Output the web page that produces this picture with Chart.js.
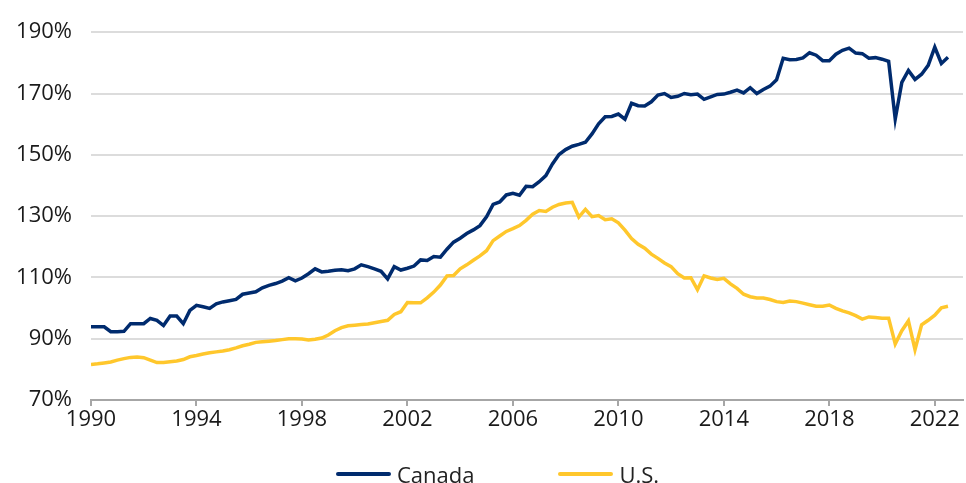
<!DOCTYPE html>
<html>
<head>
<meta charset="utf-8">
<script src="https://cdn.jsdelivr.net/npm/chart.js@4.4.1/dist/chart.umd.min.js"></script>
<style>
    html, body { margin: 0; padding: 0; background: #fff; }
    .wrap { position: relative; width: 966px; height: 483px; }
    .legend {
        position: absolute;
        left: 336px;
        top: 459px;
        display: flex;
        align-items: center;
        font-family: 'Open Sans', sans-serif;
        font-size: 22px;
        color: #222;
    }
    .legend-item { display: flex; align-items: center; margin-right: 84px; }
    .legend-line { width: 55px; height: 4px; margin-right: 6px; border-radius: 2px; }
</style>
</head>
<body>
<div class="wrap">
    <canvas id="debtChart" width="966" height="483"></canvas>
    <div class="legend" id="legend"></div>
</div>
<script>
    // quarterly, 1990 Q1 .. 2022 Q3
    const startYear = 1990;
    const canadaDebt = [
        93.9, 93.9, 93.9, 92.3, 92.3, 92.4, 94.9, 94.9, 94.9, 96.6,
        96.0, 94.3, 97.4, 97.4, 94.9, 99.2, 100.9, 100.4, 99.9, 101.4,
        102.0, 102.4, 102.8, 104.5, 104.9, 105.3, 106.6, 107.4, 108.0, 108.8,
        109.9, 108.9, 109.8, 111.2, 112.8, 111.8, 112.0, 112.3, 112.5, 112.2,
        112.8, 114.1, 113.5, 112.8, 112.0, 109.5, 113.5, 112.4, 113.0, 113.7,
        115.7, 115.5, 116.8, 116.6, 119.2, 121.5, 122.8, 124.3, 125.5, 126.9,
        129.8, 133.8, 134.6, 136.9, 137.4, 136.8, 139.7, 139.6, 141.2, 143.2,
        147.0, 150.1, 151.7, 152.8, 153.4, 154.1, 156.8, 160.1, 162.4, 162.5,
        163.3, 161.6, 166.8, 166.0, 165.9, 167.3, 169.5, 170.0, 168.7, 169.1,
        170.0, 169.6, 169.8, 168.1, 168.9, 169.7, 169.8, 170.4, 171.1, 170.2,
        171.9, 170.0, 171.3, 172.4, 174.5, 181.5, 181.0, 181.1, 181.6, 183.3,
        182.5, 180.7, 180.7, 182.8, 184.1, 184.8, 183.2, 183.0, 181.5, 181.7,
        181.2, 180.5, 161.7, 173.6, 177.5, 174.6, 176.3, 179.2, 185.1, 179.8,
        181.8
    ];
    const usDebt = [
        81.6, 81.8, 82.1, 82.4, 83.0, 83.5, 83.9, 84.0, 83.8, 83.0,
        82.2, 82.2, 82.5, 82.7, 83.2, 84.1, 84.5, 85.0, 85.4, 85.7,
        86.0, 86.4, 87.0, 87.7, 88.2, 88.8, 89.0, 89.2, 89.4, 89.7,
        90.0, 90.0, 89.9, 89.6, 89.8, 90.2, 91.2, 92.6, 93.6, 94.2,
        94.4, 94.6, 94.8, 95.2, 95.6, 96.0, 97.9, 98.8, 101.8, 101.7,
        101.7, 103.3, 105.2, 107.5, 110.5, 110.6, 112.8, 114.1, 115.6, 117.0,
        118.7, 122.0, 123.5, 125.0, 125.9, 126.9, 128.6, 130.6, 131.8, 131.5,
        132.9, 133.8, 134.3, 134.5, 129.7, 132.2, 129.8, 130.2, 128.8, 129.1,
        127.8, 125.4, 122.7, 120.8, 119.5, 117.6, 116.2, 114.7, 113.5, 111.2,
        109.8, 109.9, 106.0, 110.5, 109.8, 109.3, 109.7, 107.9, 106.4, 104.5,
        103.7, 103.3, 103.3, 102.8, 102.1, 101.8, 102.3, 102.1, 101.6, 101.1,
        100.6, 100.6, 101.0, 99.9, 99.1, 98.4, 97.5, 96.4, 97.1, 96.9,
        96.7, 96.7, 88.3, 92.6, 95.8, 86.4, 94.5, 96.0, 97.7, 100.1,
        100.6
    ];
    const yearTicks = [1990, 1994, 1998, 2002, 2006, 2010, 2014, 2018, 2022];
    const valueTicks = [70, 90, 110, 130, 150, 170, 190];

    const seriesNames = ['Canada', 'U.S.'];
    const seriesColors = ['#002b6e', '#ffc72c'];

    const quarters = canadaDebt.map((_, i) => {
        const year = startYear + Math.floor(i / 4);
        return { label: `${year} Q${(i % 4) + 1}`, x: year + (i % 4) / 4 };
    });

    const toPoints = (values) => values.map((v, i) => ({ x: quarters[i].x, y: v }));

    const font = { family: "'Open Sans', sans-serif", size: 22 };

    new Chart(document.getElementById('debtChart'), {
        type: 'line',
        data: {
            datasets: [
                {
                    label: seriesNames[0],
                    data: toPoints(canadaDebt),
                    borderColor: seriesColors[0],
                    borderWidth: 3.5,
                    pointRadius: 0,
                    tension: 0,
                    order: 0,
                },
                {
                    label: seriesNames[1],
                    data: toPoints(usDebt),
                    borderColor: seriesColors[1],
                    borderWidth: 3.5,
                    pointRadius: 0,
                    tension: 0,
                    order: 1,
                },
            ],
        },
        options: {
            responsive: false,
            animation: false,
            layout: { padding: { top: 27, right: 3, left: 0, bottom: 0 } },
            plugins: {
                legend: { display: false },
                tooltip: { enabled: false },
            },
            scales: {
                x: {
                    type: 'linear',
                    min: 1990,
                    max: 2023.07,
                    afterBuildTicks: (axis) => {
                        axis.ticks = yearTicks.map((v) => ({ value: v }));
                    },
                    afterFit: (axis) => {
                        axis.height = 83;
                    },
                    ticks: {
                        color: '#1a1a1a',
                        font,
                        padding: 1,
                        maxRotation: 0,
                        autoSkip: false,
                        callback: (v) => String(v),
                    },
                    grid: {
                        drawOnChartArea: false,
                        drawTicks: true,
                        tickLength: 6,
                        color: '#a6a6a6',
                        lineWidth: 2,
                    },
                    border: { display: true, color: '#a6a6a6', width: 2 },
                },
                y: {
                    min: 70,
                    max: 190,
                    afterBuildTicks: (axis) => {
                        axis.ticks = valueTicks.map((v) => ({ value: v }));
                    },
                    afterFit: (axis) => {
                        axis.width = 91;
                    },
                    ticks: {
                        color: '#1a1a1a',
                        font,
                        padding: 19,
                        callback: (v) => `${v}%`,
                    },
                    grid: {
                        color: '#dcdcdc',
                        lineWidth: 2,
                        drawTicks: false,
                    },
                    border: { display: false },
                },
            },
        },
    });

    const legend = document.getElementById('legend');
    seriesNames.forEach((name, i) => {
        const item = document.createElement('div');
        item.className = 'legend-item';
        item.innerHTML = `<span class="legend-line" style="background:${seriesColors[i]}"></span><span>${name}</span>`;
        legend.appendChild(item);
    });
</script>
</body>
</html>
